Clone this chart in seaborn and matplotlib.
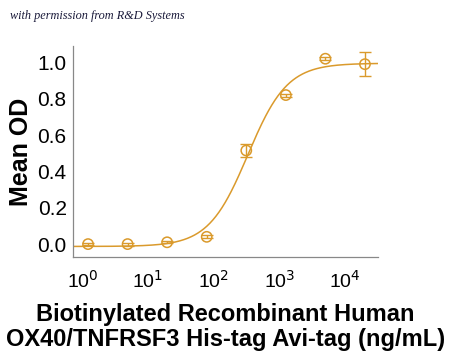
import numpy as np
import pandas as pd
import matplotlib
matplotlib.use("Agg")
import matplotlib.pyplot as plt
import seaborn as sns

# Data
conc = [1.22, 4.88, 19.5, 78.1, 312.5, 1250, 5000, 20000]
mean_od = [0.00, 0.00, 0.01, 0.04, 0.515, 0.82, 1.02, 0.99]
sd_od = [0.004, 0.008, 0.006, 0.008, 0.035, 0.008, 0.008, 0.065]

# 4PL fit parameters
fit_bottom = -0.013
fit_top = 0.995
fit_ec50 = 330.0
fit_hill = 1.45

xticks = [1, 10, 100, 1000, 10000]
xticklabels = ["10$^{0}$", "10$^{1}$", "10$^{2}$", "10$^{3}$", "10$^{4}$"]
yticks = [0.0, 0.2, 0.4, 0.6, 0.8, 1.0]
yticklabels = ["0.0", "0.2", "0.4", "0.6", "0.8", "1.0"]

sns.set_style("white")
plt.rcParams['font.family'] = ['Liberation Sans', 'DejaVu Sans']
plt.rcParams['text.color'] = 'black'
plt.rcParams['axes.labelcolor'] = 'black'

color = "#DA9A2C"

fig = plt.figure(figsize=(4.5, 3.53), dpi=100)
ax = fig.add_axes([73/450, 1 - 257/353, (378-73)/450, (257-46)/353])

xs = np.logspace(np.log10(0.72), np.log10(31600), 400)
ys = fit_bottom + (fit_top - fit_bottom) / (1 + (fit_ec50 / xs) ** fit_hill)
curve = pd.DataFrame({"x": xs, "y": ys})
sns.lineplot(data=curve, x="x", y="y", ax=ax, color=color, lw=1.1)

pts = pd.DataFrame({"conc": conc, "od": mean_od, "sd": sd_od})
ax.errorbar(pts["conc"], pts["od"], yerr=pts["sd"], fmt="none",
            ecolor=color, elinewidth=1.0, capsize=4, capthick=1.0)
sns.scatterplot(data=pts, x="conc", y="od", ax=ax, marker="o", s=55,
                facecolor="none", edgecolor=color, linewidth=1.1, zorder=5)

ax.set_xscale("log")
ax.set_xlim(0.72, 31600)
ax.set_ylim(-0.071, 1.09)
ax.set_xticks(xticks)
ax.set_xticklabels(xticklabels, fontsize=14)
ax.set_yticks(yticks)
ax.set_yticklabels(yticklabels, fontsize=15)
ax.xaxis.set_minor_locator(matplotlib.ticker.LogLocator(base=10, subs=np.arange(2, 10)))
ax.tick_params(axis="both", which="both", direction="out", colors="#888888",
               labelcolor="black")
ax.tick_params(axis="x", which="major", length=3, width=0.8, pad=6)
ax.tick_params(axis="x", which="minor", length=2, width=0.6)
ax.tick_params(axis="y", which="major", length=3, width=0.8, pad=1.5)

sns.despine(ax=ax)
for s in ["left", "bottom"]:
    ax.spines[s].set_color("#888888")
    ax.spines[s].set_linewidth(0.9)

ax.set_ylabel("Mean OD", fontsize=18, fontweight="bold", labelpad=3, color="black")
ax.set_xlabel("Biotinylated Recombinant Human\nOX40/TNFRSF3 His-tag Avi-tag (ng/mL)",
              fontsize=17, fontweight="bold", labelpad=8, linespacing=1.12,
              color="black")

fig.text(0.022, 0.955, "with permission from R&D Systems", fontsize=8.8,
         fontstyle="italic", family=["Liberation Serif", "DejaVu Serif"],
         color="#1a1a3a", ha="left", va="center")

fig.savefig("out.png", dpi=100)
